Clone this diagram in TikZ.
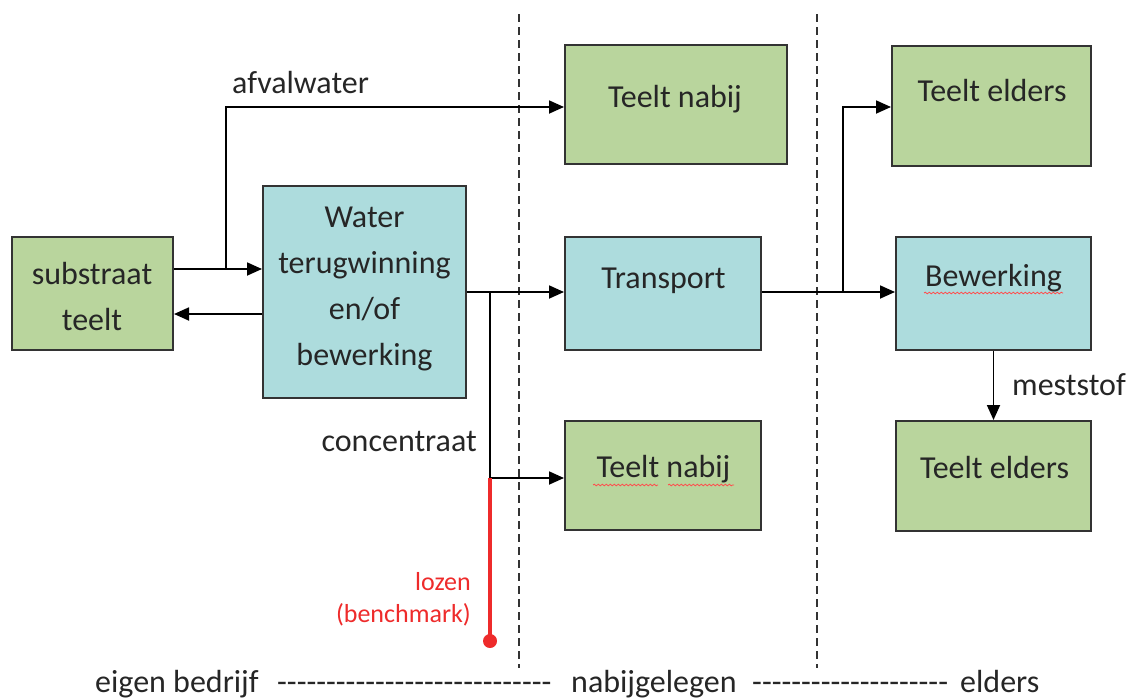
\documentclass[tikz,border=0pt]{standalone}
\usepackage{fontspec}
\setmainfont{Carlito}
\usetikzlibrary{arrows.meta,decorations.pathmorphing}
\definecolor{boxgreen}{HTML}{B9D59D}
\definecolor{boxblue}{HTML}{ADDCDD}
\definecolor{edgec}{HTML}{333333}
\definecolor{txt}{HTML}{262626}
\definecolor{redline}{HTML}{EE2B2B}
\newcommand{\dashrun}[1]{\foreach \k in {1,...,#1}{\mbox{-}}}
\begin{document}
\begin{tikzpicture}[x=1pt,y=-1pt,
  box/.style={draw=edgec,line width=2pt,inner sep=0pt,rectangle},
  gbox/.style={box,fill=boxgreen},
  bbox/.style={box,fill=boxblue},
  lbl/.style={font=\fontsize{32}{40}\selectfont,text=txt,inner sep=0pt,anchor=base},
  lblw/.style={lbl,anchor=base west},
  lble/.style={lbl,anchor=base east},
  rlbl/.style={font=\fontsize{26}{32}\selectfont,text=redline,inner sep=0pt,anchor=base east},
  arr/.style={draw=black,line width=1.8pt,-{Triangle[length=15pt,width=13pt]}},
  redln/.style={draw=redline,line width=3.5pt},
  sepline/.style={draw=edgec,line width=2pt,dash pattern=on 8pt off 5pt},
  squig/.style={draw=red!70!white,line width=0.8pt,decorate,decoration={snake,amplitude=0.8pt,segment length=4pt}}
]
\useasboundingbox (0,0) rectangle (1129,699);

% separators
\coordinate (s1t) at (519,14);
\coordinate (s1b) at (519,668);
\coordinate (s2t) at (817,14);
\coordinate (s2b) at (817,668);
\draw[sepline] (s1t) -- (s1b);
\draw[sepline] (s2t) -- (s2b);

% boxes
\node[gbox,minimum width=161pt,minimum height=113pt] (sub) at (92.5,293.5) {};
\node[bbox,minimum width=203pt,minimum height=212pt] (water) at (364.5,292) {};
\node[gbox,minimum width=222pt,minimum height=119pt] (tn1) at (676,104.5) {};
\node[bbox,minimum width=196pt,minimum height=113pt] (transport) at (663,293.5) {};
\node[gbox,minimum width=196pt,minimum height=109pt] (tn2) at (663,475.5) {};
\node[gbox,minimum width=199pt,minimum height=120pt] (te1) at (991.5,106) {};
\node[bbox,minimum width=195pt,minimum height=113pt] (bew) at (993.5,293.5) {};
\node[gbox,minimum width=195pt,minimum height=110pt] (te2) at (993.5,476) {};

% box texts
\node[lbl] (subt1) at (92,284) {substraat};
\node[lbl] (subt2) at (92,330) {teelt};
\node[lbl] (wt1) at (364.5,227) {Water};
\node[lbl] (wt2) at (364.5,273) {terugwinning};
\node[lbl] (wt3) at (364.5,319) {en/of};
\node[lbl] (wt4) at (364.5,365) {bewerking};
\node[lbl] (tn1t) at (675,107) {Teelt nabij};
\node[lbl] (trt) at (663.5,288) {Transport};
\node[lbl] (tn2t) at (663.5,477) {Teelt nabij};
\node[lbl] (te1t) at (992,101) {Teelt elders};
\node[lbl] (bewt) at (993.5,286) {Bewerking};
\node[lbl] (te2t) at (994.5,478) {Teelt elders};

% spelling squiggles
\draw[squig] (593,485) -- (658,485);
\draw[squig] (668,485) -- (734,485);
\draw[squig] (924,293) -- (1063,293);

% helper coordinates
\coordinate (r1) at (0,269);
\coordinate (r2) at (0,314);
\coordinate (r3) at (0,107);
\coordinate (r4) at (0,478);
\coordinate (j1) at (226,269);
\coordinate (j2) at (490,292);
\coordinate (j3) at (843,292);
\coordinate (j4) at (490,478);

% connectors
\draw[arr] (sub.east |- r1) -- (water.west |- r1);
\draw[arr] (water.west |- r2) -- (sub.east |- r2);
\draw[arr] (j1) |- (tn1.west |- r3);
\draw[arr] (water.east) -- (transport.west |- water.east);
\draw[arr] (j2) |- (tn2.west |- r4);
\draw[arr] (transport.east |- j3) -- (bew.west |- j3);
\draw[arr] (j3) |- (te1.west |- r3);
\draw[arr] (bew.south) -- (te2.north);

% red discharge line
\node[circle,fill=redline,inner sep=0pt,minimum size=14pt] (dot) at (490,641) {};
\draw[redln] (j4) -- (dot.center);

% labels
\node[lblw] (afv) at (232,93) {afvalwater};
\node[lble] (conc) at (477,451) {concentraat};
\node[lblw] (mest) at (1012,395) {meststof};
\node[rlbl] (loz1) at (471,590) {lozen};
\node[rlbl] (loz2) at (471,622) {(benchmark)};

% bottom legend
\node[lblw] (eigen) at (95,692) {eigen bedrijf};
\node[lblw] (d1) at (277,692) {\dashrun{28}};
\node[lblw] (nabij) at (571,692) {nabijgelegen};
\node[lblw] (d2) at (752,692) {\dashrun{20}};
\node[lblw] (elders) at (960,692) {elders};
\end{tikzpicture}
\end{document}
